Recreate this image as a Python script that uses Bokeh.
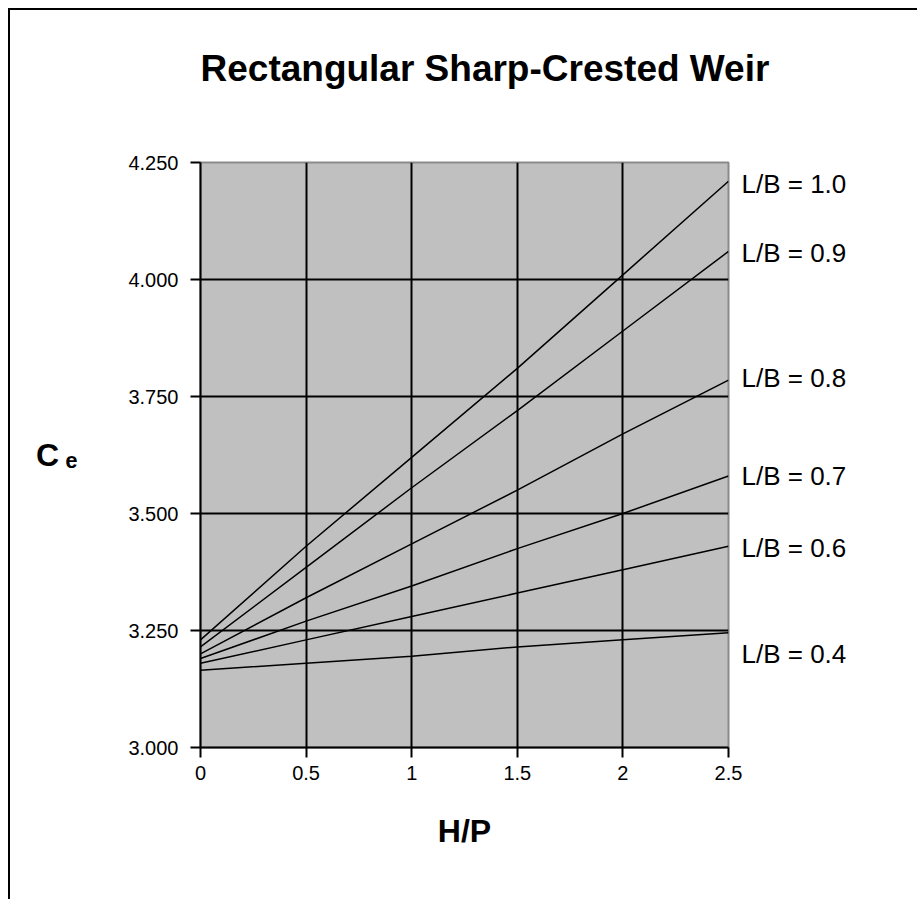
from bokeh.plotting import figure
from bokeh.models import FixedTicker, NumeralTickFormatter, Range1d, LinearAxis, Title
from bokeh.embed import file_html
from bokeh.resources import INLINE

# ---- data ----
hp = [0.0, 0.5, 1.0, 1.5, 2.0, 2.5]
ce_lb10 = [3.23, 3.43, 3.62, 3.81, 4.01, 4.21]
ce_lb09 = [3.215, 3.385, 3.555, 3.72, 3.89, 4.06]
ce_lb08 = [3.20, 3.32, 3.435, 3.55, 3.67, 3.785]
ce_lb07 = [3.19, 3.27, 3.345, 3.425, 3.50, 3.58]
ce_lb06 = [3.18, 3.23, 3.28, 3.33, 3.38, 3.43]
ce_lb04 = [3.165, 3.18, 3.195, 3.215, 3.23, 3.245]
series_labels = ["L/B = 1.0", "L/B = 0.9", "L/B = 0.8", "L/B = 0.7", "L/B = 0.6", "L/B = 0.4"]
label_y = [4.203, 4.057, 3.79, 3.58, 3.426, 3.20]
x_ticks = [0, 0.5, 1, 1.5, 2, 2.5]
y_ticks = [3.0, 3.25, 3.5, 3.75, 4.0, 4.25]
title_text = "Rectangular Sharp-Crested Weir"
x_title = "H/P"
y_title = "C\u2009\u2091"

FONT = "Liberation Sans"

W, H = 909, 891
p = figure(width=W, height=H, output_backend="svg", toolbar_location=None,
           x_range=Range1d(0, 2.5), y_range=Range1d(3.0, 4.25),
           min_border_left=190, min_border_right=191,
           min_border_top=152, min_border_bottom=154,
           background_fill_color="#c0c0c0", border_fill_color="white",
           title=title_text,
           styles={"margin-left": "8px", "margin-top": "8px",
                   "border-left": "2px solid black", "border-top": "2px solid black"})

p.outline_line_color = "#8a8a8a"
p.outline_line_width = 2

p.title.align = "left"
p.title.offset = 0
p.title.text_font = FONT
p.title.text_font_style = "bold"
p.title.text_font_size = "37px"
p.title.text_color = "black"
p.title.standoff = 10

# blank spacer between the frame and the title
p.add_layout(Title(text=" ", text_font_size="10px", standoff=56), "above")

# axes
for ax in (p.xaxis[0], p.yaxis[0]):
    ax.axis_line_color = "black"
    ax.axis_line_width = 2
    ax.major_tick_line_color = "black"
    ax.major_tick_line_width = 2
    ax.major_tick_out = 10
    ax.major_tick_in = 0
    ax.minor_tick_line_color = None
    ax.major_label_text_font = FONT
    ax.major_label_text_font_size = "20px"
    ax.major_label_text_color = "black"
    ax.axis_label_text_font = FONT
    ax.axis_label_text_font_style = "bold"
    ax.axis_label_text_font_size = "32px"
    ax.axis_label_text_color = "black"

p.xaxis.ticker = FixedTicker(ticks=x_ticks)
p.yaxis.ticker = FixedTicker(ticks=y_ticks)
p.yaxis.formatter = NumeralTickFormatter(format="0.000")
p.xaxis.major_label_overrides = {0: "0", 0.5: "0.5", 1: "1", 1.5: "1.5", 2: "2", 2.5: "2.5"}
p.xaxis.major_label_standoff = 8
p.yaxis.major_label_standoff = 12
p.xaxis.axis_label = x_title
p.xaxis.axis_label_standoff = 30
p.yaxis.axis_label = y_title
p.yaxis.axis_label_orientation = "horizontal"
p.yaxis.axis_label_standoff = 48

p.xgrid.ticker = FixedTicker(ticks=x_ticks[1:])
p.ygrid.ticker = FixedTicker(ticks=y_ticks[1:-1])
for g in (p.xgrid[0], p.ygrid[0]):
    g.grid_line_color = "black"
    g.grid_line_width = 2

# series
for ys in (ce_lb10, ce_lb09, ce_lb08, ce_lb07, ce_lb06, ce_lb04):
    p.line(hp, ys, line_color="black", line_width=1.5)

# series labels on the right, as a label-only axis
lab_axis = LinearAxis(ticker=FixedTicker(ticks=label_y),
                      major_label_overrides={v: t for v, t in zip(label_y, series_labels)},
                      axis_line_color=None, major_tick_line_color=None,
                      minor_tick_line_color=None, major_label_standoff=7,
                      major_label_text_font=FONT, major_label_text_font_size="26px",
                      major_label_text_color="black")
p.add_layout(lab_axis, "right")

open("out.html", "w").write(file_html(p, INLINE))
